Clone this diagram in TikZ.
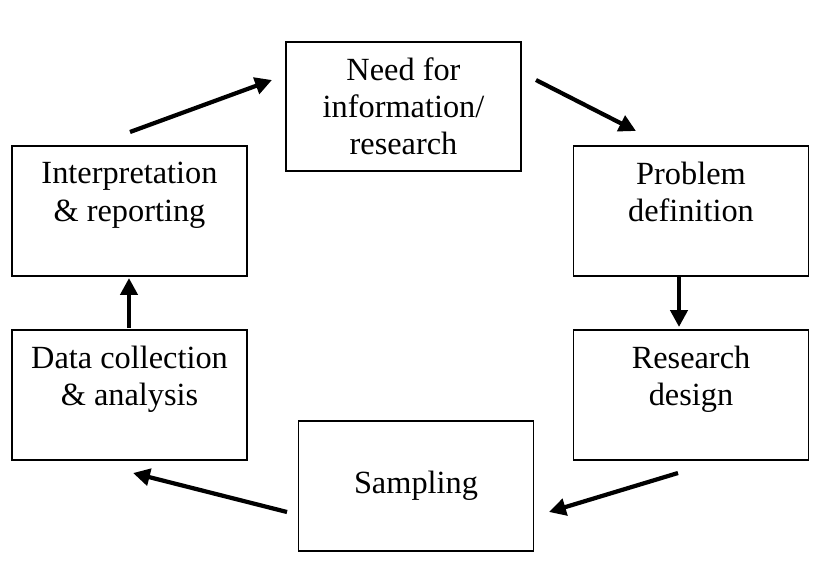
\documentclass[tikz,border=0pt]{standalone}
\usepackage{fontspec}
\setmainfont{Liberation Serif}
\usetikzlibrary{arrows.meta}
\begin{document}
\begin{tikzpicture}[x=0.025cm,y=-0.025cm,
  stage/.style={draw,line width=1.2pt,minimum width=5.88cm,minimum height=3.24cm,align=center,
    font=\fontsize{23}{26.5}\selectfont},
  flow/.style={line width=3pt,-{Triangle[length=12pt,width=12pt]}}]
\useasboundingbox (0,0) rectangle (820,565);
\node[stage] (need) at (403.5,106.5) {Need for\\information/\\research};
\node[stage] (problem) at (691,211) {Problem\\definition\\[-7pt]\strut};
\node[stage] (design) at (691,395) {Research\\design\\[-7pt]\strut};
\node[stage] (sampling) at (416,486) {Sampling};
\node[stage] (data) at (129.5,395) {Data collection\\\& analysis\\[-7pt]\strut};
\node[stage] (interp) at (129.5,211) {Interpretation\\\& reporting\\[-7pt]\strut};
% arrow end points
\coordinate (a1) at (130,132); \coordinate (b1) at (272,80);
\coordinate (a2) at (536,80);  \coordinate (b2) at (636,131);
\coordinate (a3) at (679,277); \coordinate (b3) at (679,327);
\coordinate (a4) at (678,473); \coordinate (b4) at (549,512);
\coordinate (a5) at (287,512); \coordinate (b5) at (133,473);
\coordinate (a6) at (129,328); \coordinate (b6) at (129,278);
\foreach \i in {1,...,6}
  \draw[flow] (a\i) -- (b\i);
\end{tikzpicture}
\end{document}
